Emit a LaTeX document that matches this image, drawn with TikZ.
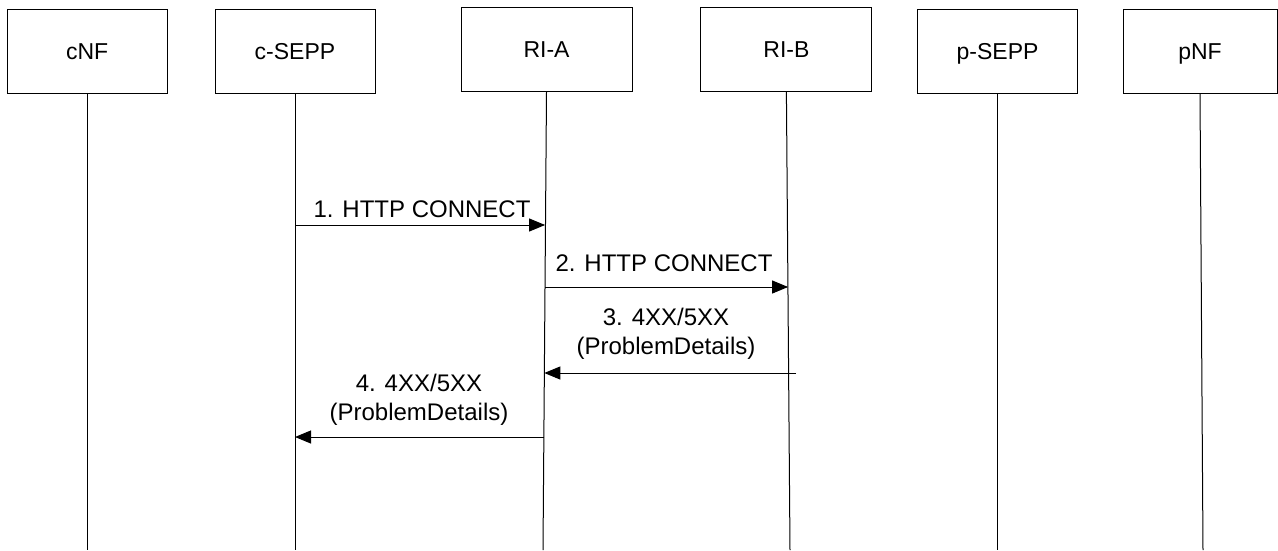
\documentclass[tikz,border=0pt]{standalone}
\usepackage{fontspec}
\setmainfont{Liberation Sans}
\usetikzlibrary{arrows.meta}
\begin{document}
\begin{tikzpicture}[x=1pt,y=-1pt,
  entity/.style={draw=black, line width=1pt, minimum height=84pt, inner sep=0pt,
    text height=16.5pt, text depth=0pt, font=\fontsize{23}{27}\selectfont},
  lifeline/.style={draw=black, line width=1pt},
  msg/.style={draw=black, line width=1pt, -{Triangle[length=16pt,width=13pt]}},
  lbl/.style={inner sep=0pt, font=\fontsize{24}{29}\selectfont, align=center}]
\useasboundingbox (0,0) rectangle (1278,550);
% entities
\node[entity, minimum width=159.6pt] (cnf)   at (87.2,51.4)  {cNF};
\node[entity, minimum width=160pt]   (csepp) at (295,51.4)   {c-SEPP};
\node[entity, minimum width=171pt]   (ria)   at (546.5,49.5) {RI-A};
\node[entity, minimum width=171pt]   (rib)   at (786.4,49.5) {RI-B};
\node[entity, minimum width=160pt]   (psepp) at (997.6,51.6) {p-SEPP};
\node[entity, minimum width=154pt]   (pnf)   at (1200,51.6)  {pNF};
% lifeline ends
\coordinate (cnfE)   at (87.2,550);
\coordinate (cseppE) at (295,550);
\coordinate (riaE)   at (543,550);
\coordinate (ribE)   at (790,550);
\coordinate (pseppE) at (997.6,550);
\coordinate (pnfE)   at (1203,550);
\draw[lifeline] (cnf.south) -- (cnfE);
\draw[lifeline] (csepp.south) -- (cseppE);
\draw[lifeline] (ria.south) -- (riaE);
\draw[lifeline] (rib.south) -- (ribE);
\draw[lifeline] (psepp.south) -- (pseppE);
\draw[lifeline] (pnf.south) -- (pnfE);
% message end points
\coordinate (m1a) at (295,225);   \coordinate (m1b) at (545.1,225);
\coordinate (m2a) at (545,287);   \coordinate (m2b) at (788.1,287);
\coordinate (m3a) at (796,373);   \coordinate (m3b) at (544.3,373);
\coordinate (m4a) at (543.9,437); \coordinate (m4b) at (295,437);
\draw[msg] (m1a) -- (m1b);
\draw[msg] (m2a) -- (m2b);
\draw[msg] (m3a) -- (m3b);
\draw[msg] (m4a) -- (m4b);
% labels
\node[lbl, anchor=base] (l1) at (422,217) {1. HTTP CONNECT};
\node[lbl, anchor=base] (l2) at (664,271) {2. HTTP CONNECT};
\node[lbl, anchor=base] (l3) at (666,354) {3. 4XX/5XX\\(ProblemDetails)};
\node[lbl, anchor=base] (l4) at (419,420) {4. 4XX/5XX\\(ProblemDetails)};
\end{tikzpicture}
\end{document}
